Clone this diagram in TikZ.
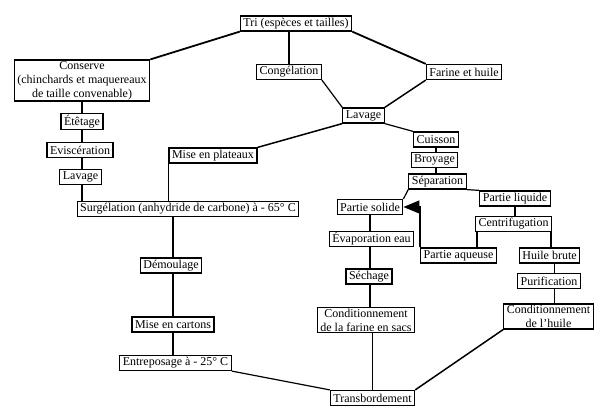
\documentclass[tikz,border=0pt]{standalone}
\usepackage{fontspec}
\setmainfont{Liberation Serif}
\usetikzlibrary{arrows.meta,positioning}
\tikzset{
    stage/.style={
        rectangle,
        draw=black,
        line width=1.2pt,
        fill=white,
        minimum height=15pt,
        inner xsep=3pt,
        inner ysep=1.2pt,
        font=\fontsize{12}{14}\selectfont,
        align=center
    },
    link/.style={
        line width=1.2pt,
        draw=black
    },
    flowto/.style={
        line width=1.2pt,
        draw=black,
        -{Triangle[length=16pt,width=13pt]}
    }
}
\begin{document}
\begin{tikzpicture}[x=1pt,y=-1pt]
    \useasboundingbox (0,0) rectangle (600,414);
    \node [stage] (tri) at (296,23.5) {Tri (espèces et tailles)};
    \node [stage] (conserve) at (82,80.5) {Conserve\\(chinchards et maquereaux\\de taille convenable)};
    \node [stage] (congel) at (289,72) {Congélation};
    \node [stage] (farine) at (464,72) {Farine et huile};
    \node [stage] (lavage) at (363.5,115.5) {Lavage};
    \node [stage] (cuisson) at (436,139.5) {Cuisson};
    \node [stage] (broyage) at (434.5,160) {Broyage};
    \node [stage] (separation) at (437.5,181.5) {Séparation};
    \node [stage] (solide) at (370,207) {Partie solide};
    \node [stage] (liquide) at (515,198.5) {Partie liquide};
    \node [stage] (centri) at (513.5,224) {Centrifugation};
    \node [stage] (evap) at (371.5,239) {Évaporation eau};
    \node [stage] (aqueuse) at (458.5,255.5) {Partie aqueuse};
    \node [stage] (huile) at (549.5,255.5) {Huile brute};
    \node [stage] (sechage) at (369,276.5) {Séchage};
    \node [stage] (condfarine) at (366,320) {Conditionnement\\de la farine en sacs};
    \node [stage] (purif) at (549,281) {Purification};
    \node [stage] (condhuile) at (548.5,316.5) {Conditionnement\\de l'huile};
    \node [stage] (transb) at (372.5,398) {Transbordement};
    \node [stage] (etetage) at (82,121.5) {Étêtage};
    \node [stage] (evisc) at (80,150) {Eviscération};
    \node [stage] (lavageg) at (80.5,177) {Lavage};
    \node [stage] (plateaux) at (213,155.5) {Mise en plateaux};
    \node [stage] (surgel) at (188,209) {Surgélation (anhydride de carbone) à - 65° C};
    \node [stage] (demoul) at (171,265.5) {Démoulage};
    \node [stage] (cartons) at (173,324.5) {Mise en cartons};
    \node [stage] (entrepos) at (175.5,363) {Entreposage à - 25° C};

    \draw [link,line width=1.8pt] (tri.south west) -- (conserve.north east);
    \draw [link] (congel.north) -- (congel.north |- tri.south);
    \draw [link,line width=1.8pt] (tri.south east) -- (farine.north west);
    \draw [link] (congel.south east) -- (lavage.north west);
    \draw [link,line width=1.5pt] (farine.south west) -- (lavage.north east);
    \draw [link] (lavage.south east) -- (cuisson.north west);
    \draw [link,line width=1.5pt] (lavage.south west) -- (plateaux.north east);
    \draw [link] (conserve.south) -- (etetage.north);
    \draw [link] (etetage.south) -- (etetage.south |- evisc.north);
    \draw [link] (etetage.south |- evisc.south) -- (etetage.south |- lavageg.north);
    \draw [link] (etetage.south |- lavageg.south) -- (etetage.south |- surgel.north);
    \draw [link] (plateaux.south west) -- (plateaux.south west |- surgel.north);
    \draw [link] (cartons.north |- surgel.south) -- (cartons.north |- demoul.north);
    \draw [link] (cartons.north |- demoul.south) -- (cartons.north);
    \draw [link] (cartons.south) -- (cartons.south |- entrepos.north);
    \draw [link] (entrepos.south east) -- (transb.north west);
    \draw [link] (cuisson.south) -- (cuisson.south |- broyage.north);
    \draw [link] (cuisson.south |- broyage.south) -- (cuisson.south |- separation.north);
    \draw [link] (separation.south west) -- (solide.north east);
    \draw [link] (separation.south east) -- (liquide.north west);
    \draw [link] (liquide.south) -- (liquide.south |- centri.north);
    \draw [link] ([xshift=2pt]centri.south west) -- ([xshift=2pt]centri.south west |- aqueuse.north);
    \draw [link] ([xshift=-1pt]centri.south east) -- ([xshift=-1pt]centri.south east |- huile.north);
    \draw [flowto] (aqueuse.north west) |- (solide.east);
    \draw [link] (solide.south) -- (solide.south |- evap.north);
    \draw [link] (solide.south |- evap.south) -- (solide.south |- sechage.north);
    \draw [link] (solide.south |- sechage.south) -- (solide.south |- condfarine.north);
    \draw [link] (transb.north |- condfarine.south) -- (transb.north);
    \draw [link] ([xshift=5pt]huile.south) -- ([xshift=5pt]huile.south |- purif.north);
    \draw [link] ([xshift=5pt]huile.south |- purif.south) -- ([xshift=5pt]huile.south |- condhuile.north);
    \draw [link,line width=1.5pt] (condhuile.south west) -- (transb.north east);
\end{tikzpicture}
\end{document}
